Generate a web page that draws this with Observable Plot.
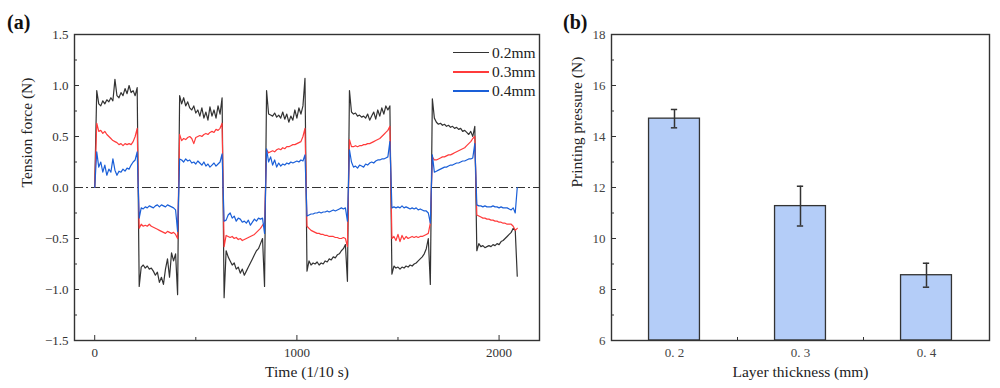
<!DOCTYPE html>
<html><head><meta charset="utf-8">
<script src="https://cdn.jsdelivr.net/npm/d3@7"></script>
<script src="https://cdn.jsdelivr.net/npm/@observablehq/plot@0.6"></script>
<style>
body{margin:0;background:#fff;}
#wrap{position:relative;width:1000px;height:388px;overflow:hidden;font-family:"Liberation Serif",serif;}
#pa{position:absolute;left:0;top:0;}
#pb{position:absolute;left:560px;top:0;}
.tag{position:absolute;font-weight:bold;font-size:20px;color:#111;line-height:20px;}
.legend{position:absolute;left:453px;top:43px;font-size:15.5px;color:#222;}
.legend div{display:flex;align-items:center;height:19.3px;}
.legend span.sw{display:inline-block;width:36px;height:1.5px;margin-right:3px;}
</style></head>
<body><div id="wrap">
<div id="pa"></div><div id="pb"></div>
<div class="tag" style="left:7px;top:12px">(a)</div>
<div class="tag" style="left:563px;top:12px">(b)</div>
<div class="legend" id="legend"></div>
</div>
<script>
// ---------- Panel (a): tension force time series (sampled every 10 units of 1/10 s) ----------
const sampleStep = 10;
const seriesNames = ["0.2mm", "0.3mm", "0.4mm"];
const seriesColors = ["#333333", "#ff3b3b", "#1a5fd8"];

const force02 = [0,
  0.95,0.82,0.80,0.85,0.82,0.86,0.84,0.88,0.85,1.06,0.90,0.88,0.93,0.90,0.97,0.92,1.00,0.93,0.95,0.90,0.98,
  -0.97,-0.78,-0.76,-0.79,-0.77,-0.80,-0.79,-0.82,-0.86,-0.83,-0.93,-0.88,-0.95,-0.80,-0.70,-0.88,-0.64,-0.72,-0.65,-1.05,
  0.90,0.82,0.88,0.80,0.84,0.78,0.76,0.80,0.73,0.76,0.70,0.78,0.68,0.74,0.66,0.79,0.70,0.76,0.68,0.80,0.72,0.88,
  -1.08,-0.62,-0.68,-0.72,-0.76,-0.74,-0.80,-0.78,-0.84,-0.80,-0.86,-0.82,-0.78,-0.74,-0.70,-0.66,-0.62,-0.60,-0.55,-0.50,-0.97,
  0.95,0.72,0.71,0.70,0.73,0.69,0.71,0.68,0.74,0.67,0.72,0.64,0.70,0.66,0.76,0.68,0.78,0.72,0.80,1.07,
  -0.82,-0.72,-0.76,-0.74,-0.75,-0.73,-0.76,-0.74,-0.75,-0.72,-0.73,-0.70,-0.71,-0.68,-0.69,-0.66,-0.65,-0.62,-0.60,-0.56,-0.92,
  0.95,0.74,0.72,0.73,0.70,0.71,0.69,0.70,0.68,0.72,0.66,0.70,0.74,0.67,0.76,0.70,0.78,0.72,0.80,0.76,0.80,
  -0.85,-0.77,-0.79,-0.78,-0.80,-0.78,-0.79,-0.77,-0.78,-0.76,-0.77,-0.75,-0.74,-0.72,-0.70,-0.68,-0.65,-0.60,-0.50,-0.95,
  0.87,0.68,0.64,0.62,0.63,0.61,0.62,0.60,0.61,0.59,0.60,0.58,0.59,0.57,0.58,0.55,0.56,0.54,0.52,0.55,0.50,0.60,
  -0.62,-0.55,-0.58,-0.57,-0.59,-0.58,-0.57,-0.58,-0.56,-0.57,-0.55,-0.56,-0.53,-0.52,-0.50,-0.48,-0.46,-0.44,-0.40,-0.42,
  -0.87];

const force03 = [0,
  0.63,0.55,0.56,0.53,0.55,0.52,0.50,0.48,0.46,0.45,0.44,0.42,0.43,0.41,0.43,0.42,0.43,0.42,0.45,0.50,0.58,
  -0.40,-0.36,-0.38,-0.37,-0.38,-0.36,-0.38,-0.39,-0.40,-0.41,-0.42,-0.43,-0.44,-0.45,-0.43,-0.44,-0.45,-0.44,-0.46,-0.50,
  0.52,0.46,0.48,0.47,0.49,0.50,0.48,0.43,0.49,0.50,0.51,0.50,0.52,0.53,0.52,0.54,0.55,0.54,0.57,0.56,0.58,0.63,
  -0.58,-0.47,-0.48,-0.49,-0.48,-0.50,-0.49,-0.51,-0.50,-0.52,-0.51,-0.50,-0.49,-0.48,-0.47,-0.46,-0.44,-0.42,-0.40,-0.37,-0.35,
  0.37,0.34,0.35,0.36,0.35,0.37,0.38,0.37,0.39,0.38,0.40,0.40,0.41,0.42,0.42,0.43,0.44,0.45,0.50,0.58,
  -0.38,-0.40,-0.42,-0.43,-0.44,-0.45,-0.45,-0.46,-0.46,-0.47,-0.47,-0.48,-0.48,-0.48,-0.49,-0.49,-0.50,-0.50,-0.49,-0.50,-0.58,
  0.47,0.40,0.40,0.41,0.40,0.41,0.41,0.42,0.42,0.43,0.43,0.44,0.45,0.46,0.47,0.48,0.50,0.52,0.54,0.56,0.60,
  -0.50,-0.48,-0.52,-0.46,-0.53,-0.47,-0.51,-0.48,-0.50,-0.49,-0.48,-0.49,-0.48,-0.49,-0.48,-0.48,-0.47,-0.46,-0.45,-0.35,
  0.30,0.27,0.27,0.28,0.29,0.30,0.30,0.31,0.32,0.32,0.33,0.34,0.35,0.36,0.37,0.38,0.39,0.41,0.43,0.45,0.48,0.50,
  -0.27,-0.28,-0.29,-0.30,-0.30,-0.31,-0.31,-0.32,-0.32,-0.33,-0.33,-0.34,-0.34,-0.35,-0.35,-0.36,-0.36,-0.36,-0.38,-0.42,
  -0.40];

const force04 = [0,
  0.35,0.20,0.25,0.15,0.22,0.12,0.18,0.15,0.28,0.17,0.12,0.16,0.15,0.18,0.16,0.19,0.18,0.22,0.25,0.27,0.35,
  -0.30,-0.20,-0.21,-0.19,-0.20,-0.18,-0.19,-0.20,-0.18,-0.17,-0.19,-0.17,-0.18,-0.19,-0.17,-0.18,-0.19,-0.20,-0.22,-0.43,
  0.28,0.27,0.25,0.28,0.26,0.27,0.24,0.25,0.23,0.26,0.24,0.22,0.25,0.21,0.23,0.20,0.22,0.24,0.21,0.23,0.25,0.33,
  -0.33,-0.32,-0.27,-0.25,-0.30,-0.28,-0.33,-0.30,-0.31,-0.34,-0.33,-0.35,-0.32,-0.37,-0.34,-0.31,-0.33,-0.30,-0.31,-0.30,-0.45,
  0.38,0.25,0.30,0.22,0.27,0.20,0.24,0.21,0.23,0.22,0.24,0.23,0.25,0.24,0.25,0.26,0.25,0.27,0.26,0.32,
  -0.28,-0.27,-0.26,-0.26,-0.25,-0.25,-0.24,-0.25,-0.24,-0.24,-0.23,-0.24,-0.23,-0.22,-0.23,-0.22,-0.21,-0.20,-0.21,-0.20,-0.33,
  0.37,0.25,0.20,0.21,0.19,0.22,0.21,0.20,0.23,0.22,0.24,0.25,0.24,0.26,0.27,0.27,0.28,0.28,0.29,0.30,0.45,
  -0.20,-0.19,-0.20,-0.19,-0.20,-0.18,-0.20,-0.19,-0.20,-0.21,-0.20,-0.21,-0.20,-0.22,-0.21,-0.22,-0.23,-0.23,-0.25,-0.35,
  0.32,0.15,0.16,0.17,0.18,0.19,0.20,0.20,0.21,0.22,0.22,0.23,0.24,0.24,0.25,0.26,0.26,0.27,0.28,0.28,0.29,0.43,
  -0.17,-0.18,-0.18,-0.19,-0.18,-0.19,-0.19,-0.19,-0.18,-0.19,-0.19,-0.20,-0.19,-0.20,-0.20,-0.20,-0.21,-0.22,-0.20,-0.25,
  0.0];

const xTicksA = [0, 1000, 2000];
const xMinorA = [500, 1500];
const yTicksA = [-1.5, -1.0, -0.5, 0.0, 0.5, 1.0, 1.5];
const yMinorA = [-1.25, -0.75, -0.25, 0.25, 0.75, 1.25];

// ---------- Panel (b): printing pressure bars ----------
const thickness = [0.2, 0.3, 0.4];
const thicknessLabels = ["0. 2", "0. 3", "0. 4"];
const pressureMean = [14.70, 11.27, 8.56];
const pressureErr = [0.36, 0.78, 0.47];
const xMinorB = [0.25, 0.35];
const yTicksB = [6, 8, 10, 12, 14, 16, 18];
const yMinorB = [7, 9, 11, 13, 15, 17];

// ---------- build ----------
const seriesValues = [force02, force03, force04];
const rows = [];
seriesValues.forEach((vals, k) => vals.forEach((v, i) => rows.push({t: i * sampleStep, v, s: seriesNames[k]})));

const bars = thickness.map((t, i) => ({t, label: thicknessLabels[i], mean: pressureMean[i], err: pressureErr[i]}));

const axisStyle = {fontFamily: "'Liberation Serif', serif", fontSize: "13px", color: "#333", background: "#fff", overflow: "visible"};
const ink = "#333";

const plotA = Plot.plot({
  width: 560, height: 388,
  marginLeft: 74, marginRight: 21, marginTop: 34, marginBottom: 48,
  style: axisStyle,
  x: {domain: [-100, 2200]},
  y: {domain: [-1.5, 1.5]},
  color: {domain: seriesNames, range: seriesColors},
  marks: [
    Plot.ruleY([0], {stroke: ink, strokeWidth: 1.1, strokeDasharray: "9,3,2,3"}),
    Plot.line(rows, {x: "t", y: "v", z: "s", stroke: "s", strokeWidth: 1.2}),
    Plot.frame({stroke: ink, strokeWidth: 1.4}),
    Plot.axisX(xTicksA, {tickSize: 0, tickPadding: 7, label: null, tickFormat: d3.format("d"), fill: "#333"}),
    Plot.axisX(xTicksA, {tickSize: -5, label: null, tickFormat: () => "", stroke: ink}),
    Plot.axisX(xMinorA, {tickSize: -3, label: null, tickFormat: () => "", stroke: ink}),
    Plot.axisY(yTicksA, {tickSize: 0, tickPadding: 6, label: null, tickFormat: d3.format(".1f"), fill: "#333"}),
    Plot.axisY(yTicksA, {tickSize: -5, label: null, tickFormat: () => "", stroke: ink}),
    Plot.axisY(yMinorA, {tickSize: -3, label: null, tickFormat: () => "", stroke: ink}),
    Plot.text(["Time (1/10 s)"], {frameAnchor: "bottom", dy: 36, fontSize: 15.5, fill: "#222"}),
    Plot.text(["Tension force (N)"], {frameAnchor: "left", dx: -47, rotate: -90, fontSize: 15.5, fill: "#222"})
  ]
});
document.getElementById("pa").appendChild(plotA);

const plotB = Plot.plot({
  width: 440, height: 388,
  marginLeft: 51, marginRight: 11, marginTop: 34, marginBottom: 48,
  style: axisStyle,
  x: {domain: [0.15, 0.45]},
  y: {domain: [yTicksB[0], yTicksB[yTicksB.length - 1]]},
  marks: [
    Plot.rectY(bars, {x1: d => d.t - 0.0202, x2: d => d.t + 0.0202, y1: yTicksB[0], y2: "mean", fill: "#b4cdf8", stroke: ink, strokeWidth: 1.3}),
    Plot.ruleX(bars, {x: "t", y1: d => d.mean - d.err, y2: d => d.mean + d.err, stroke: ink, strokeWidth: 1.5}),
    Plot.ruleY(bars, {y: d => d.mean + d.err, x1: d => d.t - 0.0025, x2: d => d.t + 0.0025, stroke: ink, strokeWidth: 1.5}),
    Plot.ruleY(bars, {y: d => d.mean - d.err, x1: d => d.t - 0.0025, x2: d => d.t + 0.0025, stroke: ink, strokeWidth: 1.5}),
    Plot.frame({stroke: ink, strokeWidth: 1.4}),
    Plot.axisX(thickness, {tickSize: 0, tickPadding: 7, label: null, tickFormat: (d, i) => thicknessLabels[i], fill: "#444"}),
    Plot.axisX(xMinorB, {tickSize: -3, label: null, tickFormat: () => "", stroke: ink}),
    Plot.axisY(yTicksB, {tickSize: 0, tickPadding: 6, label: null, tickFormat: d3.format("d"), fill: "#444"}),
    Plot.axisY(yTicksB, {tickSize: -5, label: null, tickFormat: () => "", stroke: ink}),
    Plot.axisY(yMinorB, {tickSize: -3, label: null, tickFormat: () => "", stroke: ink}),
    Plot.text(["Layer thickness (mm)"], {frameAnchor: "bottom", dy: 36, fontSize: 15.5, fill: "#222"}),
    Plot.text(["Printing pressure (N)"], {frameAnchor: "left", dx: -34, rotate: -90, fontSize: 15.5, fill: "#222"})
  ]
});
document.getElementById("pb").appendChild(plotB);

// legend
const lg = document.getElementById("legend");
seriesNames.forEach((n, i) => {
  const row = document.createElement("div");
  const sw = document.createElement("span");
  sw.className = "sw";
  sw.style.background = seriesColors[i];
  row.appendChild(sw);
  row.appendChild(document.createTextNode(n));
  lg.appendChild(row);
});
</script>
</body></html>
